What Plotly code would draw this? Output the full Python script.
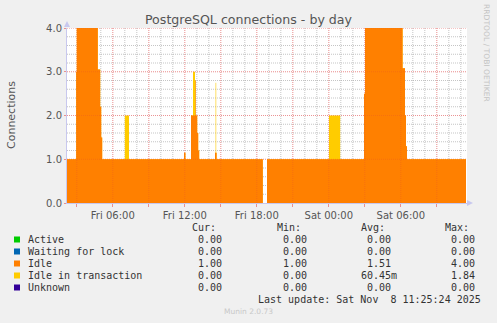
import plotly.graph_objects as go
import pandas as pd

# ---------------- data ----------------
times = [
    "2025-11-07 02:11", "2025-11-07 02:57", "2025-11-07 03:00", "2025-11-07 04:45",
    "2025-11-07 04:57", "2025-11-07 05:02", "2025-11-07 05:07", "2025-11-07 07:00",
    "2025-11-07 07:21", "2025-11-07 11:56", "2025-11-07 12:03", "2025-11-07 12:31",
    "2025-11-07 12:41", "2025-11-07 12:51", "2025-11-07 12:54", "2025-11-07 13:02",
    "2025-11-07 13:07", "2025-11-07 13:12", "2025-11-07 14:31", "2025-11-07 14:34",
    "2025-11-07 14:37", "2025-11-07 14:39", "2025-11-07 18:30", "2025-11-07 18:31",
    "2025-11-07 18:51", "2025-11-08 00:01", "2025-11-08 00:57", "2025-11-08 02:56",
    "2025-11-08 03:01", "2025-11-08 06:09", "2025-11-08 06:21", "2025-11-08 06:26",
    "2025-11-08 06:31", "2025-11-08 11:26",
]
idle = [
    1.0, 3.0, 4.0, 3.05,
    2.2, 1.5, 1.0, 1.0,
    1.0, 1.15, 1.0, 2.0,
    2.0, 2.8, 2.0, 1.6,
    1.2, 1.0, 1.15, 1.15,
    1.15, 1.0, 1.0, None,
    1.0, 1.0, 1.0, 2.5,
    4.0, 3.08, 2.0, 1.3,
    1.0, 1.0,
]
idle_in_transaction = [
    0.0, 0.0, 0.0, 0.0,
    0.0, 0.0, 0.0, 1.0,
    0.0, 0.0, 0.0, 0.0,
    1.0, 0.0, 0.0, 0.0,
    0.0, 0.0, 0.0, 1.6,
    0.0, 0.0, 0.0, None,
    0.0, 1.0, 0.0, 0.0,
    0.0, 0.0, 0.0, 0.0,
    0.0, 0.0,
]

x_range = ["2025-11-07 02:11", "2025-11-08 11:31"]
x_tick_vals = [
    "2025-11-07 03:00", "2025-11-07 06:00", "2025-11-07 09:00", "2025-11-07 12:00",
    "2025-11-07 15:00", "2025-11-07 18:00", "2025-11-07 21:00", "2025-11-08 00:00",
    "2025-11-08 03:00", "2025-11-08 06:00", "2025-11-08 09:00",
]
x_tick_text = ["", "Fri 06:00", "", "Fri 12:00", "", "Fri 18:00", "", "Sat 00:00",
               "", "Sat 06:00", ""]
y_tick_vals = [0, 1, 2, 3, 4]

legend_labels = ["Active", "Waiting for lock", "Idle", "Idle in transaction", "Unknown"]
legend_colors = ["#00CC00", "#0066B3", "#FF8000", "#FFCC00", "#330099"]
cur_vals = ["0.00", "0.00", "1.00", "0.00", "0.00"]
min_vals = ["0.00", "0.00", "1.00", "0.00", "0.00"]
avg_vals = ["0.00", "0.00", "1.51", "60.45m", "0.00"]
max_vals = ["0.00", "0.00", "4.00", "1.84", "0.00"]
col_headers = ["Cur:", "Min:", "Avg:", "Max:"]

title_text = "PostgreSQL connections - by day"
y_title = "Connections"
last_update = "Last update: Sat Nov  8 11:25:24 2025"
munin_version = "Munin 2.0.73"
side_text = "RRDTOOL / TOBI OETIKER"

# ---------------- layout geometry ----------------
W, H = 497, 323
L, R, T, B = 67, 467, 28, 203


def px(xp):
    return (xp - L) / (R - L)


def py(yp):
    return (B - yp) / (B - T)


def segments(xs, ys):
    """Split a series at missing values so each piece is filled separately."""
    out, cx, cy = [], [], []
    for x, y in zip(xs, ys):
        if y is None:
            if cx:
                out.append((cx, cy))
            cx, cy = [], []
        else:
            cx.append(x)
            cy.append(y)
    if cx:
        out.append((cx, cy))
    return out


total = [None if (a is None or b is None) else a + b
         for a, b in zip(idle, idle_in_transaction)]

fig = go.Figure()
for series, colr, name in [(total, "#FFCC00", "Idle in transaction"),
                           (idle, "#FF8000", "Idle")]:
    for sx, sy in segments(times, series):
        fig.add_trace(go.Scatter(
            x=sx, y=sy, mode="lines", line=dict(width=0, shape="hv"),
            fill="tozeroy", fillcolor=colr, name=name, hoverinfo="skip"))

major_below = "rgba(220,60,60,0.42)"
major_above = "rgba(220,60,60,0.22)"
minor_grid = "rgba(150,150,150,0.55)"
tick_major = "#E89090"
axis_col = "#C8C8EE"
text_col = "#555555"

fig.update_layout(
    width=W, height=H,
    margin=dict(l=L, r=W - R, t=T, b=H - B, pad=0),
    paper_bgcolor="#F0F0F0", plot_bgcolor="#FFFFFF",
    showlegend=False,
    font=dict(family="DejaVu Sans", size=10, color=text_col),
    title=dict(text=title_text, x=0.5, xref="container", xanchor="center",
               y=1 - 19.5 / H, yref="container", yanchor="middle",
               font=dict(family="DejaVu Sans", size=12.6, color=text_col)),
    xaxis=dict(
        type="date", range=x_range, tickmode="array",
        tickvals=x_tick_vals, ticktext=x_tick_text,
        showgrid=False, ticks="outside", ticklen=3, tickcolor=tick_major,
        showline=True, linecolor=axis_col, linewidth=1, layer="above traces",
        zeroline=False, tickfont=dict(size=10, color=text_col),
        fixedrange=True,
    ),
    yaxis=dict(
        range=[0, 4], tickmode="array", tickvals=y_tick_vals, tickformat=".1f",
        showgrid=False, ticks="outside", ticklen=2, tickcolor=tick_major,
        showline=True, linecolor=axis_col, linewidth=1, layer="above traces",
        zeroline=False, tickfont=dict(size=10, color=text_col),
        fixedrange=True,
    ),
)

ann = []
shapes = []

# grid: minor lines behind the areas; major (red) lines behind and faintly on top
dot = "1px,1px"


def grid_line(is_major, **kw):
    if is_major:
        shapes.append(dict(type="line", layer="below",
                           line=dict(color=major_below, width=1, dash=dot), **kw))
        shapes.append(dict(type="line", layer="above",
                           line=dict(color=major_above, width=1, dash=dot), **kw))
    else:
        shapes.append(dict(type="line", layer="below",
                           line=dict(color=minor_grid, width=1, dash=dot), **kw))


hours = pd.date_range("2025-11-07 03:00", "2025-11-08 11:00", freq="1h")
for h in hours:
    grid_line(h.hour % 3 == 0, xref="x", yref="paper", x0=h, x1=h, y0=0, y1=1)
for k in range(1, 21):
    v = k * 0.2
    grid_line(k % 5 == 0, xref="paper", yref="y", x0=0, x1=1, y0=v, y1=v)

# y axis title
ann.append(dict(text=y_title, x=px(11), y=py(115), xref="paper", yref="paper",
                textangle=-90, showarrow=False, xanchor="center", yanchor="middle",
                font=dict(family="DejaVu Sans", size=11, color=text_col)))
# side text
ann.append(dict(text=side_text, x=px(487), y=py(53), xref="paper", yref="paper",
                textangle=90, showarrow=False, xanchor="center", yanchor="middle",
                font=dict(family="DejaVu Sans", size=7.6, color="#C4C4C4")))

mono = dict(family="DejaVu Sans Mono", size=10, color="#333333")
header_right = [217.5, 302.5, 386.5, 470.5]
value_right = [223.5, 308.5, 392.7, 476.7]
header_y = 227.5
row_y0, row_dy = 239.5, 12.0

for hx, h in zip(header_right, col_headers):
    ann.append(dict(text=h, x=px(hx), y=py(header_y), xref="paper", yref="paper",
                    showarrow=False, xanchor="right", yanchor="middle", font=mono))

columns = [cur_vals, min_vals, avg_vals, max_vals]
for i, (lab, colr) in enumerate(zip(legend_labels, legend_colors)):
    yy = row_y0 + i * row_dy
    shapes.append(dict(type="rect", xref="paper", yref="paper",
                       x0=px(14), x1=px(20), y0=py(yy + 3), y1=py(yy - 3),
                       fillcolor=colr, line=dict(width=0)))
    ann.append(dict(text=lab, x=px(26), y=py(yy), xref="paper", yref="paper",
                    showarrow=False, xanchor="left", yanchor="middle", font=mono))
    for vx, col in zip(value_right, columns):
        v = col[i]
        extra = 6.0 if v[-1].isalpha() else 0.0
        ann.append(dict(text=v, x=px(vx + extra), y=py(yy), xref="paper", yref="paper",
                        showarrow=False, xanchor="right", yanchor="middle", font=mono))

ann.append(dict(text=last_update.replace(" ", "\u00a0"), x=px(483), y=py(299.5),
                xref="paper", yref="paper", showarrow=False, xanchor="right",
                yanchor="middle", font=mono))
ann.append(dict(text=munin_version, x=px(248), y=py(311.5), xref="paper", yref="paper",
                showarrow=False, xanchor="center", yanchor="middle",
                font=dict(family="DejaVu Sans", size=7.5, color="#C8C8C8")))

# axis arrows
shapes.append(dict(type="path", xref="paper", yref="paper",
                   path=f"M {px(64)} {py(27)} L {px(70)} {py(27)} L {px(67)} {py(21)} Z",
                   fillcolor=axis_col, line=dict(width=0)))
shapes.append(dict(type="path", xref="paper", yref="paper",
                   path=f"M {px(467)} {py(200)} L {px(467)} {py(206)} L {px(473)} {py(203)} Z",
                   fillcolor=axis_col, line=dict(width=0)))

fig.update_layout(annotations=ann, shapes=shapes)
fig.write_html("out.html")
